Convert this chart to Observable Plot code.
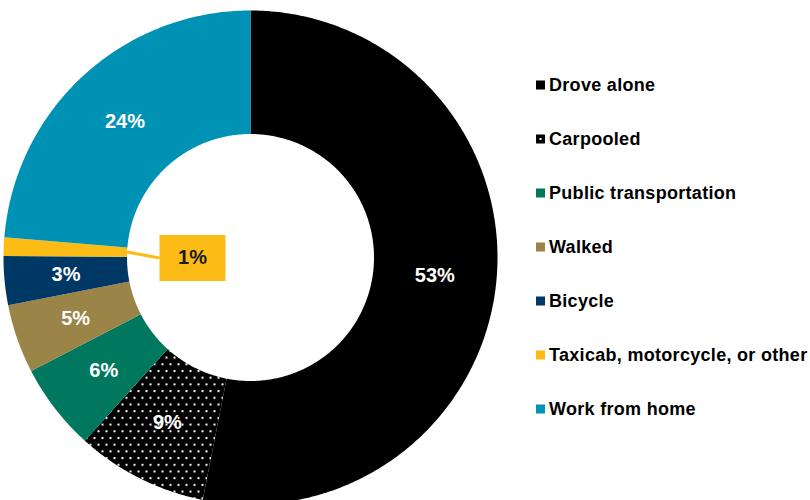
<!DOCTYPE html>
<html>
<head>
<meta charset="utf-8">
<script src="https://cdn.jsdelivr.net/npm/d3@7"></script>
<script src="https://cdn.jsdelivr.net/npm/@observablehq/plot@0.6"></script>
<style>
  html, body { margin: 0; padding: 0; background: #fff; }
  #wrap { position: relative; width: 810px; height: 500px; overflow: hidden; font-family: "Liberation Sans", Arial, sans-serif; }
  #legend { position: absolute; left: 536px; top: 58px; }
  .item { height: 54px; display: flex; align-items: center; font-weight: bold; font-size: 18px; color: #000; white-space: nowrap; letter-spacing: 0.3px; }
  .item svg { margin-right: 3px; flex: none; }
</style>
</head>
<body>
<div id="wrap"><div id="legend"></div></div>
<script>
const categories = ["Drove alone", "Carpooled", "Public transportation", "Walked", "Bicycle", "Taxicab, motorcycle, or other", "Work from home"];
const shares = [53.1, 8.6, 5.7, 4.5, 3.2, 1.2, 23.7];
const labels = ["53%", "9%", "6%", "5%", "3%", "1%", "24%"];
const colors = ["#000000", "url(#dots)", "#00775F", "#9A8448", "#003865", "#FDBB16", "#0092B4"];
const calloutCategory = "Taxicab, motorcycle, or other";

const R_OUT = 1, R_IN = 0.5, R_LABEL = 0.75, R_CALLOUT = 0.235;
const total = d3.sum(shares);

// build slice polygons from values
const slices = [];
let acc = 0;
categories.forEach((c, i) => {
  const a0 = acc / total * 2 * Math.PI;
  acc += shares[i];
  const a1 = acc / total * 2 * Math.PI;
  const n = Math.max(2, Math.ceil((a1 - a0) / (Math.PI / 360)));
  const pts = [];
  for (let k = 0; k <= n; k++) { const a = a0 + (a1 - a0) * k / n; pts.push({key: c, x: R_OUT * Math.sin(a), y: R_OUT * Math.cos(a)}); }
  for (let k = n; k >= 0; k--) { const a = a0 + (a1 - a0) * k / n; pts.push({key: c, x: R_IN * Math.sin(a), y: R_IN * Math.cos(a)}); }
  slices.push({key: c, label: labels[i], a0, a1, mid: (a0 + a1) / 2, pts});
});
const polyData = slices.flatMap(s => s.pts);
const labelData = slices.filter(s => s.key !== calloutCategory).map(s => ({label: s.label, x: R_LABEL * Math.sin(s.mid), y: R_LABEL * Math.cos(s.mid)}));
const cs = slices.find(s => s.key === calloutCategory);
const boxW = 66, boxH = 46, unit = 247; // px per data unit
const callout = [{label: cs.label, x: R_CALLOUT * Math.sin(cs.mid), y: R_CALLOUT * Math.cos(cs.mid) - 0.012}];
const leader = [{x1: R_IN * Math.sin(cs.mid), y1: R_IN * Math.cos(cs.mid), x2: callout[0].x - boxW / 2 / unit, y2: callout[0].y}];
const boxSymbol = { draw(ctx) { ctx.rect(-boxW / 2, -boxH / 2, boxW, boxH); } };

const chart = Plot.plot({
  width: 810, height: 500,
  margin: 0,
  x: {domain: [-1, 1], range: [3, 497], axis: null},
  y: {domain: [-1, 1], range: [504, 10], axis: null},
  color: {domain: categories, range: colors},
  marks: [
    Plot.line(polyData, {x: "x", y: "y", z: "key", fill: "key", stroke: "none", curve: "linear-closed"}),
    Plot.text(labelData, {x: "x", y: "y", text: "label", fill: "white", fontSize: 20, fontWeight: "bold", fontFamily: "Liberation Sans, Arial, sans-serif"}),
    Plot.link(leader, {x1: "x1", y1: "y1", x2: "x2", y2: "y2", stroke: "#FDBB16", strokeWidth: 3}),
    Plot.dot(callout, {x: "x", y: "y", symbol: boxSymbol, r: 10, fill: "#FDBB16", stroke: "none"}),
    Plot.text(callout, {x: "x", y: "y", text: "label", fill: "#1a1a1a", fontSize: 20, fontWeight: "bold", fontFamily: "Liberation Sans, Arial, sans-serif"})
  ]
});

// dotted pattern for "Carpooled"
const ns = "http://www.w3.org/2000/svg";
const defs = document.createElementNS(ns, "defs");
defs.innerHTML = `<pattern id="dots" width="8" height="13.4" patternUnits="userSpaceOnUse">
  <rect width="8" height="13.4" fill="#000"/>
  <rect x="1" y="1" width="2" height="2" fill="#fff"/>
  <rect x="5" y="7.7" width="2" height="2" fill="#fff"/>
</pattern>`;
chart.insertBefore(defs, chart.firstChild);
document.getElementById("wrap").insertBefore(chart, document.getElementById("legend"));

// legend
const legend = d3.select("#legend");
categories.forEach((c, i) => {
  const item = legend.append("div").attr("class", "item");
  const sw = item.append("svg").attr("width", 10).attr("height", 10);
  sw.append("rect").attr("width", 9).attr("height", 9).attr("y", 0.5).attr("fill", colors[i] === "url(#dots)" ? "#000" : colors[i]);
  if (colors[i] === "url(#dots)") sw.append("rect").attr("x", 3.5).attr("y", 4).attr("width", 2).attr("height", 2).attr("fill", "#fff");
  item.append("span").text(c);
});
</script>
</body>
</html>
